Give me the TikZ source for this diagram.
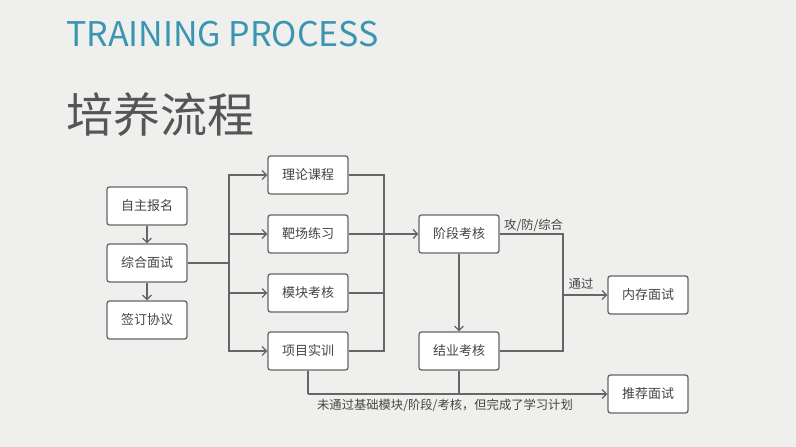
\documentclass[tikz,border=0pt]{standalone}
\usepackage{fontspec}
\setmainfont{Noto Sans CJK SC}
\usetikzlibrary{arrows.meta,calc}
\definecolor{bg}{HTML}{EFEFED}
\definecolor{ln}{HTML}{666666}
\definecolor{teal}{HTML}{3A95B0}
\definecolor{ttl}{HTML}{555555}
\definecolor{txt}{HTML}{444444}
\begin{document}
\begin{tikzpicture}[x=1pt,y=-1pt,
  box/.style={draw=ln,fill=white,line width=1.3pt,rounded corners=2.5pt,minimum width=80pt,minimum height=38pt,inner sep=0pt,font=\fontsize{13}{15}\selectfont,text=txt},
  conn/.style={draw=ln,line width=1.3pt},
  arr/.style={conn,-{Straight Barb[length=4.5pt,width=9pt,line width=1.2pt]}},
  lbl/.style={font=\fontsize{12.3}{14}\selectfont,text=txt,inner sep=1pt}]
\fill[bg] (0,0) rectangle (796,447);
\useasboundingbox (0,0) rectangle (796,447);
\node[anchor=west,text=teal,font=\fontsize{34}{38}\selectfont,inner sep=0pt] (t1) at (66,34) {TRAINING PROCESS};
\node[anchor=west,text=ttl,font=\fontsize{47}{50}\selectfont,inner sep=0pt] (t2) at (66,115) {培养流程};

\node[box] (zz) at (147,206) {自主报名};
\node[box] (zh) at (147,263) {综合面试};
\node[box] (qd) at (147,320) {签订协议};
\node[box] (ll) at (308,175) {理论课程};
\node[box] (bc) at (308,234) {靶场练习};
\node[box] (mk) at (308,293) {模块考核};
\node[box] (xm) at (308,351) {项目实训};
\node[box] (jd) at (459,234) {阶段考核};
\node[box] (jy) at (459,351) {结业考核};
\node[box] (nc) at (648,295) {内存面试};
\node[box] (tj) at (648,394) {推荐面试};

\draw[arr] (zz) -- (zh);
\draw[arr] (zh) -- (qd);

\coordinate (b1) at (229,263);
\draw[conn] (zh.east) -- (b1);
\draw[arr] (b1) |- (ll.west);
\draw[arr] (b1) |- (bc.west);
\draw[arr] (b1) |- (mk.west);
\draw[arr] (b1) |- (xm.west);

\coordinate (b2) at (384,234);
\draw[conn] (ll.east) -- (ll.east -| b2) -- (xm.east -| b2) -- (xm.east);
\draw[conn] (mk.east) -- (mk.east -| b2);
\draw[arr] (bc.east) -- (jd.west);

\draw[arr] (jd) -- (jy);

\coordinate (b3) at (563,295);
\draw[conn] (jd.east) -- (jd.east -| b3) -- (jy.east -| b3) -- (jy.east);
\draw[arr] (b3) -- (nc.west);
\node[lbl,anchor=south west] (l1) at (503,233) {攻/防/综合};
\node[lbl,anchor=south] (l2) at (581,291) {通过};

\coordinate (b4) at (308,394);
\draw[conn] (xm.south) -- (b4);
\draw[conn] (jy.south) -- (jy.south |- tj.west);
\draw[arr] (b4) -- (tj.west);
\node[lbl,anchor=north] (l3) at (445,398) {未通过基础模块/阶段/考核，但完成了学习计划};
\end{tikzpicture}
\end{document}
